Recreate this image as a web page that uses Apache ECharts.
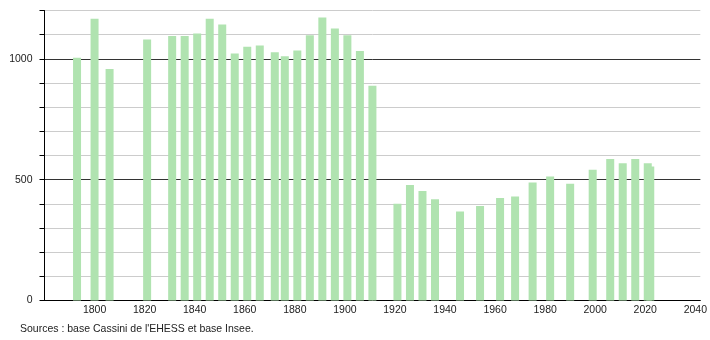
<!DOCTYPE html>
<html><head><meta charset="utf-8">
<script src="https://cdn.jsdelivr.net/npm/echarts@6/dist/echarts.min.js"></script>
<style>html,body{margin:0;padding:0;background:#fff}#c{width:710px;height:340px}</style>
</head><body><div id="c"></div>
<script>
const years = [1793,1800,1806,1821,1831,1836,1841,1846,1851,1856,1861,1866,1872,1876,1881,1886,1891,1896,1901,1906,1911,1921,1926,1931,1936,1946,1954,1962,1968,1975,1982,1990,1999,2006,2011,2016,2021,2022];
const population = [1004,1166,958,1080,1094,1094,1105,1166,1142,1022,1050,1055,1027,1011,1034,1098,1171,1126,1098,1032,889,400,478,453,419,368,391,424,430,488,513,483,541,586,568,586,568,554];
const xTicks = [1800,1820,1840,1860,1880,1900,1920,1940,1960,1980,2000,2020,2040];
const yLabels = [0,500,1000];
const sourceText = "Sources : base Cassini de l'EHESS et base Insee.";

const chart = echarts.init(document.getElementById('c'), null, {renderer:'canvas'});
const font = 'Liberation Sans, Arial, sans-serif';
chart.setOption({
  animation:false,
  grid:{left:44.5,right:9,top:10.5,bottom:39.5,containLabel:false},
  graphic:[{type:'text',left:20,top:324,style:{text:sourceText,font:'10.5px '+font,fill:'#222'}}],
  xAxis:{type:'value',min:1780,max:2042,interval:20,
    axisLine:{show:true,lineStyle:{color:'#000',width:1}},
    axisTick:{show:false},splitLine:{show:false},
    axisLabel:{show:true,showMinLabel:false,showMaxLabel:false,margin:4,fontSize:10.5,fontFamily:font,color:'#222',
      formatter:v=>xTicks.includes(v)?String(v):''}},
  yAxis:[{type:'value',min:0,max:1200,interval:100,
    axisLine:{show:true,lineStyle:{color:'#000',width:1}},
    axisTick:{show:true,length:5,lineStyle:{color:'#000'}},
    splitLine:{show:true,lineStyle:{color:'#cccccc',width:1}},
    axisLabel:{margin:12,fontSize:10.5,fontFamily:font,color:'#222',
      formatter:v=>yLabels.includes(v)?String(v):''}},
   {type:'value',min:0,max:1200,interval:500,position:'left',
    axisLine:{show:false},axisTick:{show:false},axisLabel:{show:false},
    splitLine:{show:true,showMinLine:false,showMaxLine:false,lineStyle:{color:'#333333',width:1}}}],
  series:[{type:'bar',xAxisIndex:0,yAxisIndex:0,barWidth:8,
    itemStyle:{color:'#b0e3b0'},
    data:years.map((y,i)=>[y,population[i]])}]
});
</script></body></html>
